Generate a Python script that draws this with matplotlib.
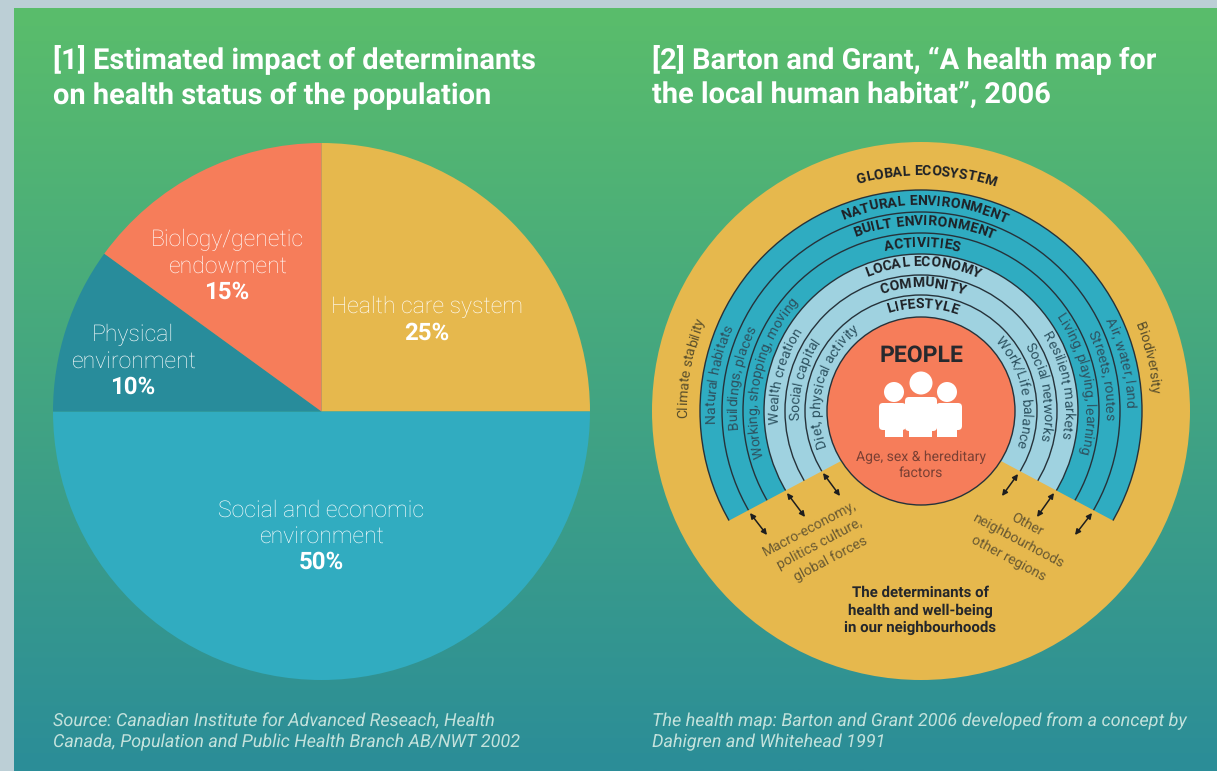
import numpy as np
import matplotlib
matplotlib.use("Agg")
import matplotlib.pyplot as plt
from matplotlib.font_manager import FontProperties
from matplotlib.patches import Circle, Polygon, FancyBboxPatch, Rectangle, FancyArrowPatch
from matplotlib.colors import LinearSegmentedColormap
from matplotlib.textpath import TextToPath

plt.rcParams["text.hinting"] = "no_hinting"
plt.rcParams["text.hinting_factor"] = 1

W, H = 1217, 771
FONT = "Roboto"

# Pie chart data
pie_values = [25, 50, 10, 15]
pie_names = [["Health care system"],
             ["Social and economic", "environment"],
             ["Physical", "environment"],
             ["Biology/genetic", "endowment"]]
pie_colors = ["#E6B84D", "#31ACC0", "#288C9B", "#F67D5A"]
pie_label_x = [427, 321, 133, 227]
pie_label_top = [306, 509, 334, 239]

# Health map rings, outermost first
ring_radii = [221, 199, 178, 157, 136, 116]
ring_colors = ["#2FACC1", "#2FACC1", "#2FACC1", "#9FD2E0", "#9FD2E0", "#9FD2E0"]
ring_titles = [("GLOBAL ECOSYSTEM", 236, 1.3), ("NATURAL ENVIRONMENT", 206, 1.0),
               ("BUILT ENVIRONMENT", 186, 1.0), ("ACTIVITIES", 164, 0.4),
               ("LOCAL ECONOMY", 145, 0.8), ("COMMUNITY", 124, 0.8),
               ("LIFESTYLE", 103, 0.8)]
ring_notes = [("Climate stability", 234, -79.5), ("Natural habitats", 206, -79.7),
              ("Buildings, places", 184, -79.6), ("Working, shopping, moving", 164, -77.4),
              ("Wealth creation", 143, -75.7), ("Social capital", 122, -75.0),
              ("Diet, physical activity", 101, -74.0), ("Work/Life balance", 101, 78.5),
              ("Social networks", 122, 80.7), ("Resilient markets", 143, 79.4),
              ("Living, playing, learning", 164, 79.9), ("Streets, routes", 184, 78.8),
              ("Air, water, land", 205, 76.4), ("Biodiversity", 231, 76.7)]

fig = plt.figure(figsize=(W / 100, H / 100), dpi=100)
base = fig.add_axes([0, 0, 1, 1])
base.set_xlim(0, W)
base.set_ylim(H, 0)
base.axis("off")

# Page backing and green-to-teal panel
base.add_patch(Rectangle((0, 0), W, H, fc="#BCCFD6", ec="none", zorder=0))
grad = LinearSegmentedColormap.from_list("panel", ["#5ABD6B", "#2B8D98"])
base.imshow(np.linspace(0, 1, 512)[:, None], extent=(14, W, H, 8), cmap=grad,
            aspect="auto", zorder=1)
base.set_xlim(0, W)
base.set_ylim(H, 0)

# Left panel: pie of determinants
pie_cx, pie_cy, pie_r, pad = 321.5, 411.5, 268.5, 6
pie_ax = fig.add_axes([(pie_cx - pie_r - pad) / W, 1 - (pie_cy + pie_r + pad) / H,
                       2 * (pie_r + pad) / W, 2 * (pie_r + pad) / H])
pie_ax.pie(pie_values, colors=pie_colors, startangle=90, counterclock=False, radius=1)
pie_ax.set_xlim(-1 - pad / pie_r, 1 + pad / pie_r)
pie_ax.set_ylim(-1 - pad / pie_r, 1 + pad / pie_r)
pie_ax.patch.set_visible(False)

# Overlay in pixel units for the health map and all text
ax = fig.add_axes([0, 0, 1, 1])
ax.set_xlim(0, W)
ax.set_ylim(H, 0)
ax.axis("off")


def label(x, y, s, size, color="white", weight="normal", **kw):
    kw.setdefault("ha", "center")
    kw.setdefault("va", "center")
    return ax.text(x, y + 0.08 * size, s, fontsize=size, color=color, family=FONT,
                   fontweight=weight, zorder=10, **kw)


# Headings
label(53, 57, "[1] Estimated impact of determinants", 20.6, weight="bold", ha="left")
label(53, 93, "on health status of the population", 20.6, weight="bold", ha="left")
label(652, 57, "[2] Barton and Grant, \u201cA health map for", 20.9, weight="bold", ha="left")
label(652, 93, "the local human habitat\u201d, 2006", 20.9, weight="bold", ha="left")

for value, names, x, y in zip(pie_values, pie_names, pie_label_x, pie_label_top):
    for i, name in enumerate(names):
        label(x, y + 26 * i, name, 16.8, weight="light")
    label(x, y + 26 * len(names), f"{value}%", 17, weight="bold")

# Right panel: concentric health map
cx, cy = 921, 411
ax.add_patch(Circle((cx, cy), 269, fc="#E6B84D", ec="none"))
for radius, colour in zip(ring_radii, ring_colors):
    ax.add_patch(Circle((cx, cy), radius, fc=colour, ec="#26323A", lw=1.0))

# Yellow opening at the foot of the rings
apex_y = 418.5
cut = np.radians(28)
sweep = np.linspace(np.pi - cut, cut, 60)
outer = np.column_stack([cx + 245 * np.cos(sweep), cy + 245 * np.sin(sweep)])
outer[0] = [cx - 245 * np.cos(cut), apex_y + 245 * np.sin(cut)]
outer[-1] = [cx + 245 * np.cos(cut), apex_y + 245 * np.sin(cut)]
ax.add_patch(Polygon(np.vstack([[cx, apex_y], outer]), closed=True, fc="#E6B84D", ec="none"))
ax.add_patch(Circle((cx, cy), 94, fc="#F67D5A", ec="#26323A", lw=1.0))

# Text placed letter by letter along a circle
measure = TextToPath()


def arc_text(s, radius, centre_deg, size, color, weight):
    prop = FontProperties(family=FONT, weight=weight, size=size)
    scale = 100 / 72

    def width(t):
        return measure.get_text_width_height_descent(t, prop, False)[0] * scale

    total = width(s)
    for i, ch in enumerate(s):
        if ch == " ":
            continue
        mid = width(s[:i + 1]) - width(ch) / 2 - total / 2
        theta = centre_deg + np.degrees(mid / radius)
        t = np.radians(theta)
        ax.text(cx + radius * np.sin(t), cy - radius * np.cos(t), ch, fontproperties=prop,
                color=color, rotation=-theta, rotation_mode="anchor",
                ha="center", va="baseline", zorder=10)


for s, radius, deg in ring_titles:
    arc_text(s, radius, deg, 10.2, "#1F2227", "bold")
for s, radius, deg in ring_notes:
    tint = "#5A4F2C" if radius > 221 else "#2E5361"
    arc_text(s, radius, deg, 10.0, tint, "normal")

# Centre circle contents
label(921, 354, "PEOPLE", 16.7, color="#26292E", weight="bold")
for px, py, pr in [(894, 392, 10), (947, 392, 10), (921, 383, 11.5)]:
    ax.add_patch(Circle((px, py), pr, fc="white", ec="none", zorder=6))
for bx, bw, by, bh, lx, lw_ in [(879, 27, 403, 27, 885, 18), (936, 26, 403, 27, 937, 20),
                                (905, 32, 397, 34, 909, 23)]:
    ax.add_patch(FancyBboxPatch((bx + 4, by + 4), bw - 8, bh - 8,
                                boxstyle="round,pad=4", fc="white", ec="none", zorder=6))
    ax.add_patch(Rectangle((lx, by + bh - 4), lw_, 437 - (by + bh - 4), fc="white", ec="none", zorder=6))
label(921, 456, "Age, sex & hereditary", 10.2, color="#7A4034", weight="normal")
label(921, 472, "factors", 10.2, color="#7A4034", weight="normal")

# Exchange arrows across the opening
arrows = [((750, 513), (767, 535)), ((787, 493), (805, 517)), ((823, 473), (840, 496)),
          ((1018, 474), (1002, 496)), ((1054, 493), (1037, 517)), ((1092, 513), (1075, 535))]
for a, b in arrows:
    ax.add_patch(FancyArrowPatch(a, b, arrowstyle="<|-|>", mutation_scale=8, lw=1.1,
                                 color="#1E1E1E", shrinkA=0, shrinkB=0, zorder=7))

# Rotated notes on the yellow ground
note_ink = "#6A5A32"
for (x, y, s) in [(810, 528, "Macro-economy,"), (820, 543, "politics culture,"), (831, 558, "global forces")]:
    label(x, y, s, 10.2, color=note_ink, weight="normal", rotation=28, rotation_mode="anchor")
for (x, y, s) in [(1027, 524, "Other"), (1018, 540, "neighbourhoods"), (1008, 558, "other regions")]:
    label(x, y, s, 10.2, color=note_ink, weight="normal", rotation=-28, rotation_mode="anchor")

for y, s in [(592, "The determinants of"), (610, "health and well-being"), (627, "in our neighbourhoods")]:
    label(920, y, s, 10.9, color="#23262B", weight="bold")

# Sources
src = "#C4E2DC"
label(53, 720, "Source: Canadian Institute for Advanced Reseach, Health", 13.1, color=src, weight="normal", ha="left", style="italic")
label(53, 741, "Canada, Population and Public Health Branch AB/NWT 2002", 13.1, color=src, weight="normal", ha="left", style="italic")
label(652, 720, "The health map: Barton and Grant 2006 developed from a concept by", 13.1, color=src, weight="normal", ha="left", style="italic")
label(652, 741, "Dahigren and Whitehead 1991", 13.1, color=src, weight="normal", ha="left", style="italic")

fig.savefig("out.png", dpi=100)
